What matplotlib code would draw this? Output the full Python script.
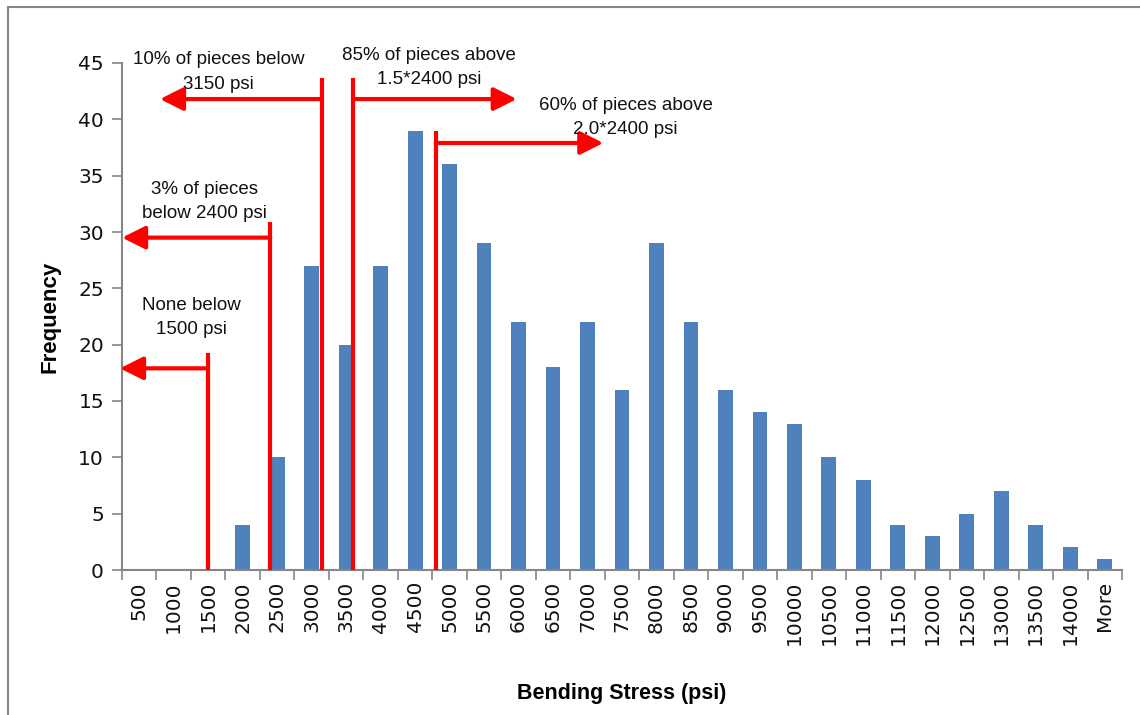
import numpy as np
import matplotlib.pyplot as plt
from matplotlib.patches import Rectangle

# histogram bins (upper edge, psi) and counts
bins = ['500', '1000', '1500', '2000', '2500', '3000', '3500', '4000', '4500', '5000',
        '5500', '6000', '6500', '7000', '7500', '8000', '8500', '9000', '9500', '10000',
        '10500', '11000', '11500', '12000', '12500', '13000', '13500', '14000', 'More']
freq = [0, 0, 0, 4, 10, 27, 20, 27, 39, 36,
        29, 22, 18, 22, 16, 29, 22, 16, 14, 13,
        10, 8, 4, 3, 5, 7, 4, 2, 1]

# stress thresholds marked on the chart (psi)
thresholds = [1500, 2400, 3150, 3600, 4800]


def bin_pos(psi):
    # bins are 500 psi wide, first bin label 500 sits at position 0
    return psi / 500.0 - 1


fig = plt.figure(figsize=(11.4, 7.15), dpi=100)
ax = fig.add_axes([122 / 1140, 1 - 570 / 715, 1000 / 1140, 507 / 715])

x = np.arange(len(bins))
ax.bar(x, freq, width=0.43, color='#4F81BD', zorder=2)

ax.set_xlim(-0.5, len(bins) - 0.5)
ax.set_ylim(0, 45)
ax.set_yticks(range(0, 46, 5))
ax.set_xticks(x)
ax.set_xticklabels(bins, rotation=90, fontsize=14.5, color='#111111')
ax.set_xticks(np.arange(-0.5, len(bins), 1), minor=True)
ax.tick_params(axis='x', which='major', length=0, pad=8)
ax.tick_params(axis='x', which='minor', length=7, width=1.2, color='#868686', direction='out')
ax.tick_params(axis='y', length=7, width=1.2, color='#868686', labelsize=14.5, labelcolor='#111111', pad=6)
for s in ['top', 'right']:
    ax.spines[s].set_visible(False)
for s in ['left', 'bottom']:
    ax.spines[s].set_color('#868686')
    ax.spines[s].set_linewidth(1.5)

ax.set_ylabel('Frequency', fontsize=16, fontweight='bold', family='Liberation Sans')
ax.set_xlabel('Bending Stress (psi)', fontsize=15.5, fontweight='bold', family='Liberation Sans')
ax.yaxis.set_label_coords(-0.062, 0.5)
ax.xaxis.set_label_coords(0.5, -0.222)

# red threshold markers: (line top, arrow height, arrow tip position)
marks = [
    (19.3, 17.9, -0.56),
    (30.9, 29.5, -0.50),
    (43.7, 41.8, 0.60),
    (43.7, 41.8, 10.95),
    (39.0, 37.9, 13.46),
]
red = '#FF0000'
for psi, (top, ya, tip) in zip(thresholds, marks):
    xp = bin_pos(psi)
    ax.plot([xp, xp], [0, top], color=red, lw=3, solid_capstyle='butt', zorder=3, clip_on=False)
    ax.annotate('', xy=(tip, ya), xytext=(xp, ya), zorder=3,
                arrowprops=dict(arrowstyle='-|>,head_length=0.7,head_width=0.35',
                                mutation_scale=20, color=red, lw=3, shrinkA=0, shrinkB=0),
                annotation_clip=False)

notes = [
    ('10% of pieces below\n3150 psi', 2.3, 44.2),
    ('85% of pieces above\n1.5*2400 psi', 8.4, 44.6),
    ('60% of pieces above\n2.0*2400 psi', 14.1, 40.2),
    ('3% of pieces\nbelow 2400 psi', 1.9, 32.7),
    ('None below\n1500 psi', 1.5, 22.4),
]
for txt, tx, ty in notes:
    ax.text(tx, ty, txt, ha='center', va='center', fontsize=13.5, linespacing=1.55,
            family='Liberation Sans', color='#111111', zorder=4)

# chart frame
fig.patches.append(Rectangle((8 / 1140, -0.1), 1.2, 1.1 - 7 / 715, transform=fig.transFigure,
                             fill=False, edgecolor='#868686', lw=1.5))

fig.savefig('out.png', dpi=100)
